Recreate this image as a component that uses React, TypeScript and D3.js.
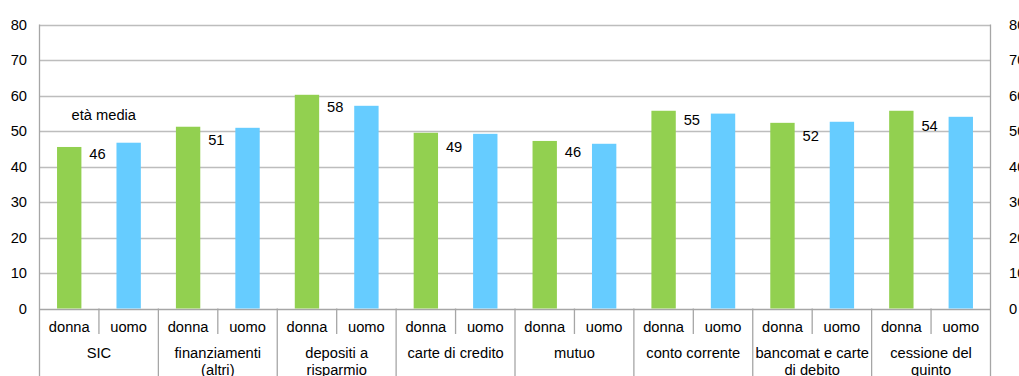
import React from "react";
import * as d3 from "d3";

const categories = [
  "SIC",
  "finanziamenti\n(altri)",
  "depositi a\nrisparmio",
  "carte di credito",
  "mutuo",
  "conto corrente",
  "bancomat e carte\ndi debito",
  "cessione del\nquinto",
];
const genders = ["donna", "uomo"];
const donnaValues = [45.5, 51.2, 60.2, 49.5, 47.2, 55.7, 52.3, 55.7];
const uomoValues = [46.7, 50.9, 57.1, 49.2, 46.4, 54.9, 52.6, 54.0];
const avgAge = [46, 51, 58, 49, 46, 55, 52, 54];
const avgLabelLevel = [43.5, 47.5, 56.8, 45.6, 44.1, 53.2, 48.5, 51.5];
const yTicks = [0, 10, 20, 30, 40, 50, 60, 70, 80];
const annotation = "età media";
const annotationLevel = 54.6;

const W = 1019;
const H = 376;
const left = 39.5;
const right = 990.5;
const top = 24.5;
const bottom = 308.5;
const FONT = "'Liberation Sans', Arial, sans-serif";
const FS = 14.7;
const GREEN = "#92D050";
const BLUE = "#66CCFF";
const GRID = "#bdbdbd";
const AXIS = "#a6a6a6";

export default function App() {
  const y = d3.scaleLinear().domain([0, 80]).range([bottom, top]);
  const xGroup = d3
    .scaleBand<string>()
    .domain(categories)
    .range([left, right])
    .padding(0);
  const xSub = d3
    .scaleBand<string>()
    .domain(genders)
    .range([0, xGroup.bandwidth()])
    .padding(0);
  const barW = xSub.bandwidth() * 0.41;
  const series = [donnaValues, uomoValues];
  const colors = [GREEN, BLUE];

  return (
    <svg
      width={W}
      height={H}
      style={{ position: "absolute", left: 0, top: 0, background: "#fff" }}
      fontFamily={FONT}
      fontSize={FS}
    >
      <rect x={0} y={0} width={W} height={H} fill="#fff" />
      {/* gridlines */}
      {yTicks.map((t) => (
        <line
          key={"g" + t}
          x1={left}
          x2={right}
          y1={Math.round(y(t)) + 0.5}
          y2={Math.round(y(t)) + 0.5}
          stroke={t === 0 ? AXIS : GRID}
          strokeWidth={1.3}
        />
      ))}
      {/* left & right y labels */}
      {yTicks.map((t) => (
        <text
          key={"l" + t}
          x={27}
          y={y(t)}
          dy="0.35em"
          textAnchor="end"
          fill="#000"
        >
          {t}
        </text>
      ))}
      {yTicks.map((t) => (
        <text key={"r" + t} x={1009} y={y(t)} dy="0.35em" textAnchor="start" fill="#000">
          {t}
        </text>
      ))}
      {/* bars */}
      {categories.map((c, i) =>
        genders.map((g, j) => {
          const cx = (xGroup(c) as number) + (xSub(g) as number) + xSub.bandwidth() / 2;
          const v = series[j][i];
          return (
            <rect
              key={c + g}
              x={cx - barW / 2}
              y={y(v)}
              width={barW}
              height={y(0) - y(v)}
              fill={colors[j]}
            />
          );
        })
      )}
      {/* vertical axis lines */}
      <line x1={left} x2={left} y1={top} y2={H} stroke={AXIS} strokeWidth={1.3} />
      <line x1={right} x2={right} y1={top} y2={H} stroke={AXIS} strokeWidth={1.3} />
      {/* category separators */}
      {categories.map((c, i) => {
        const gx = xGroup(c) as number;
        const mid = gx + (xSub("uomo") as number);
        return (
          <g key={"sep" + c}>
            {i > 0 && (
              <line x1={gx} x2={gx} y1={bottom} y2={H} stroke={AXIS} strokeWidth={1.3} />
            )}
            <line x1={mid} x2={mid} y1={bottom} y2={334} stroke={AXIS} strokeWidth={1.3} />
          </g>
        );
      })}
      {/* sub labels */}
      {categories.map((c) =>
        genders.map((g) => (
          <text
            key={"s" + c + g}
            x={(xGroup(c) as number) + (xSub(g) as number) + xSub.bandwidth() / 2}
            y={331.5}
            textAnchor="middle"
            fill="#000"
          >
            {g}
          </text>
        ))
      )}
      {/* group labels */}
      {categories.map((c) => {
        const cx = (xGroup(c) as number) + xGroup.bandwidth() / 2;
        return (
          <text key={"c" + c} x={cx} y={357.5} textAnchor="middle" fill="#000">
            {c.split("\n").map((ln, k) => (
              <tspan key={k} x={cx} dy={k === 0 ? 0 : 17}>
                {ln}
              </tspan>
            ))}
          </text>
        );
      })}
      {/* average age labels */}
      {categories.map((c, i) => (
        <text
          key={"a" + c}
          x={(xGroup(c) as number) + xGroup.bandwidth() / 2 - 1.5}
          y={y(avgLabelLevel[i])}
          dy="0.35em"
          textAnchor="middle"
          fill="#000"
        >
          {avgAge[i]}
        </text>
      ))}
      <text
        x={(xGroup(categories[0]) as number) + 32}
        y={y(annotationLevel)}
        dy="0.35em"
        fill="#000"
      >
        {annotation}
      </text>
    </svg>
  );
}
